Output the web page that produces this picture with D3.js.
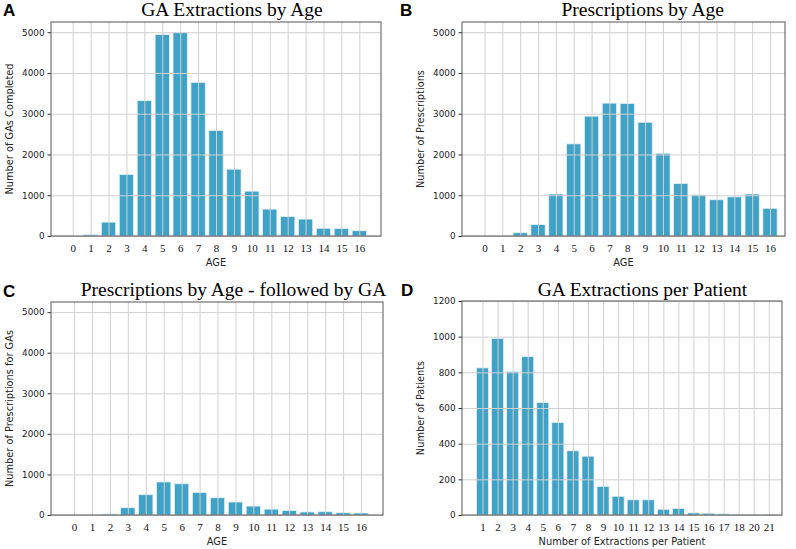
<!DOCTYPE html>
<html>
<head>
<meta charset="utf-8">
<script src="https://cdn.jsdelivr.net/npm/d3@7"></script>
<style>
  html, body { margin: 0; padding: 0; background: #fff; }
  svg { display: block; }
</style>
</head>
<body>
<svg id="chart" width="796" height="549"></svg>
<script>
// ---------- data ----------
const ages = ["0","1","2","3","4","5","6","7","8","9","10","11","12","13","14","15","16"];
const gaExtractionsByAge = [0, 30, 340, 1510, 3320, 4940, 4990, 3770, 2590, 1640, 1100, 660, 475, 415, 190, 185, 130];
const prescriptionsByAge = [0, 0, 80, 280, 1030, 2260, 2940, 3260, 3250, 2790, 2030, 1290, 1010, 890, 960, 1030, 680];
const prescriptionsFollowedByGA = [0, 0, 25, 180, 500, 815, 770, 555, 425, 320, 220, 145, 110, 75, 80, 55, 50];
const extractionsPerPatientCats = ["1","2","3","4","5","6","7","8","9","10","11","12","13","14","15","16","17","18","20","21"];
const patientsCount = [825, 990, 805, 888, 630, 518, 360, 330, 160, 105, 85, 85, 32, 37, 12, 10, 6, 2, 1, 1];
const ageYTicks = [0, 1000, 2000, 3000, 4000, 5000];
const patientYTicks = [0, 200, 400, 600, 800, 1000, 1200];

// ---------- drawing ----------
const svg = d3.select("#chart");
const BAR = "#3fa2c6", BAR_EDGE = "#e3f1f7", GRID = "#d0d0d0", SPINE = "#555";
const SERIF = "'Liberation Serif', 'Times New Roman', serif";
const SANS = "'DejaVu Sans', sans-serif";

function panel(o) {
  const g = svg.append("g");
  const x = d3.scalePoint().domain(o.cats).range([o.t0, o.t1]);
  const y = d3.scaleLinear().domain([0, o.yMax]).range([o.bottom, o.top]);
  const step = x.step();
  const bw = step * 0.8;

  // bars
  g.selectAll("rect.bar").data(o.vals).join("rect")
    .attr("class", "bar")
    .attr("x", (d, i) => x(o.cats[i]) - bw / 2)
    .attr("width", bw)
    .attr("y", d => y(d))
    .attr("height", d => y(0) - y(d))
    .attr("fill", BAR)
    .attr("stroke", BAR_EDGE)
    .attr("stroke-width", 0.8);

  // grid (on top of bars)
  const gx = g.append("g").attr("transform", `translate(0,${o.bottom})`)
    .call(d3.axisBottom(x).tickSize(-(o.bottom - o.top)).tickFormat(""));
  gx.select(".domain").remove();
  gx.selectAll("line").attr("stroke", GRID).attr("stroke-width", 1);
  const gy = g.append("g").attr("transform", `translate(${o.left},0)`)
    .call(d3.axisLeft(y).tickValues(o.yTicks).tickSize(-(o.right - o.left)).tickFormat(""));
  gy.select(".domain").remove();
  gy.selectAll("line").attr("stroke", GRID).attr("stroke-width", 1);

  // x tick labels
  const ax = g.append("g").attr("transform", `translate(0,${o.bottom})`)
    .call(d3.axisBottom(x).tickSize(0).tickPadding(0));
  ax.attr("font-family", SERIF).attr("font-size", 11);
  ax.select(".domain").remove();
  ax.selectAll("text")
    .attr("y", 15.5).attr("dy", null)
    .style("font-family", SERIF)
    .attr("font-size", 11).attr("fill", "#111");

  // y tick labels
  const ay = g.append("g").attr("transform", `translate(${o.left},0)`)
    .call(d3.axisLeft(y).tickValues(o.yTicks).tickFormat(d3.format("d")).tickSize(3.5).tickPadding(3));
  ay.attr("font-family", SANS).attr("font-size", 8.8);
  ay.select(".domain").remove();
  ay.selectAll("line").attr("stroke", "#333");
  ay.selectAll("text").attr("fill", "#222");

  // spines
  g.append("rect")
    .attr("x", o.left).attr("y", o.top)
    .attr("width", o.right - o.left).attr("height", o.bottom - o.top)
    .attr("fill", "none").attr("stroke", SPINE).attr("stroke-width", 1);

  // axis labels
  g.append("text")
    .attr("x", (o.left + o.right) / 2).attr("y", o.bottom + 30)
    .attr("text-anchor", "middle")
    .attr("font-family", SANS).attr("font-size", 9.8).attr("fill", "#222")
    .text(o.xLabel);
  g.append("text")
    .attr("transform", `translate(${o.left - 38},${(o.top + o.bottom) / 2}) rotate(-90)`)
    .attr("text-anchor", "middle")
    .attr("font-family", SANS).attr("font-size", 9.8).attr("fill", "#222")
    .text(o.yLabel);

  // title
  g.append("text")
    .attr("x", o.titleX).attr("y", o.titleY)
    .attr("text-anchor", "middle")
    .attr("font-family", SERIF)
    .attr("font-size", 19.5).attr("fill", "#000")
    .text(o.title);

  // panel letter
  g.append("text")
    .attr("x", o.letterX).attr("y", o.letterY)
    .attr("font-family", "'Liberation Sans', Arial, sans-serif")
    .attr("font-weight", "bold").attr("font-size", 17).attr("fill", "#000")
    .text(o.letter);
}

panel({
  cats: ages, vals: gaExtractionsByAge, yMax: 5250, yTicks: ageYTicks,
  left: 51, right: 381, top: 22, bottom: 236, t0: 72.7, t1: 359.3,
  title: "GA Extractions by Age", titleX: 232, titleY: 15.5,
  xLabel: "AGE", yLabel: "Number of GAs Completed",
  letter: "A", letterX: 3, letterY: 15.5
});
panel({
  cats: ages, vals: prescriptionsByAge, yMax: 5250, yTicks: ageYTicks,
  left: 462, right: 785, top: 22, bottom: 236, t0: 484.5, t1: 770,
  title: "Prescriptions by Age", titleX: 642.7, titleY: 15.5,
  xLabel: "AGE", yLabel: "Number of Prescriptions",
  letter: "B", letterX: 400, letterY: 15.5
});
panel({
  cats: ages, vals: prescriptionsFollowedByGA, yMax: 5250, yTicks: ageYTicks,
  left: 51, right: 383, top: 302, bottom: 515, t0: 74, t1: 361,
  title: "Prescriptions by Age - followed by GA", titleX: 233.5, titleY: 295.5,
  xLabel: "AGE", yLabel: "Number of Prescriptions for GAs",
  letter: "C", letterX: 3, letterY: 297
});
panel({
  cats: extractionsPerPatientCats, vals: patientsCount, yMax: 1200, yTicks: patientYTicks,
  left: 462, right: 782, top: 301, bottom: 515, t0: 482.5, t1: 768.8,
  title: "GA Extractions per Patient", titleX: 642.5, titleY: 295.5,
  xLabel: "Number of Extractions per Patient", yLabel: "Number of Patients",
  letter: "D", letterX: 401, letterY: 295.5
});
</script>
</body>
</html>
